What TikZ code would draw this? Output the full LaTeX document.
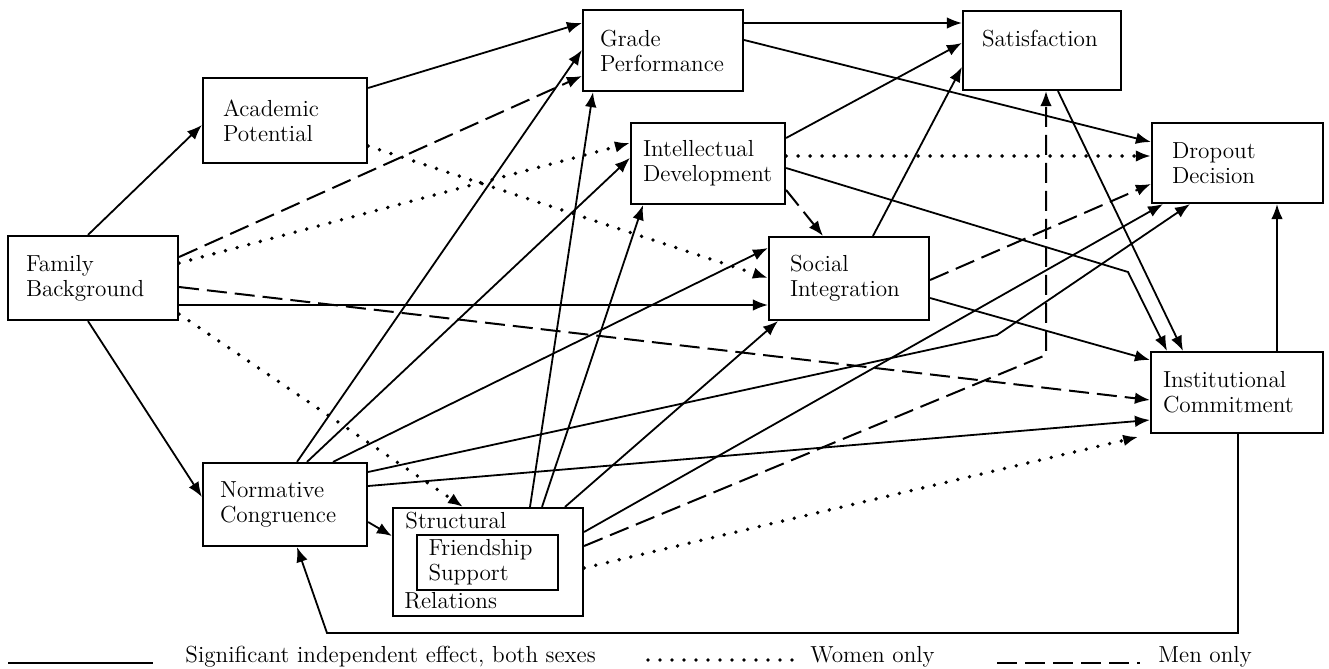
\documentclass[tikz,border=0pt]{standalone}
\usetikzlibrary{arrows.meta}

\begin{document}
\begin{tikzpicture}[x=0.5pt,y=-0.5pt,>={Latex[length=7.5pt,width=5.8pt]}]
        \tikzstyle{box}=[rectangle,draw=black,line width=1.1pt,align=left,inner sep=0pt,font=\fontsize{11.6}{12.5}\selectfont]
        \tikzstyle{caption}=[inner sep=0pt,font=\fontsize{11.6}{12.5}\selectfont]
        \tikzstyle{both}=[->,line width=0.9pt]
        \tikzstyle{women}=[->,line width=1.9pt,line cap=round,dash pattern=on 0pt off 6pt]
        \tikzstyle{men}=[->,line width=1pt,dash pattern=on 10pt off 4pt]

        \useasboundingbox (0,0) rectangle (1329,669);

        % boxes
        \node [box,minimum width=85pt,minimum height=42pt,text width=67pt] (fam) at (93,278) {Family\\Background};
        \node [box,minimum width=82pt,minimum height=42.5pt,text width=62pt] (acad) at (285,120.5) {Academic\\Potential};
        \node [box,minimum width=80pt,minimum height=40.5pt,text width=63pt] (grade) at (663,50.5) {Grade\\Performance};
        \node [box,minimum width=77pt,minimum height=40.5pt,text width=65pt] (intel) at (708,163.5) {Intellectual\\Development};
        \node [box,minimum width=80pt,minimum height=41.5pt,text width=59pt] (social) at (849,278.5) {Social\\Integration};
        \node [box,minimum width=79pt,minimum height=39.5pt,text width=60pt] (satis) at (1042,50.5) {Satisfaction\\\mbox{}};
        \node [box,minimum width=85.5pt,minimum height=40pt,text width=65.5pt] (drop) at (1237.5,163) {Dropout\\Decision};
        \node [box,minimum width=86pt,minimum height=40.5pt,text width=74pt] (inst) at (1237,392.5) {Institutional\\Commitment};
        \node [box,minimum width=82pt,minimum height=41.5pt,text width=65pt] (norm) at (285,504.5) {Normative\\Congruence};
        \node [box,minimum width=95pt,minimum height=54pt] (struct) at (488,562) {};
        \node [box,minimum width=70.5pt,minimum height=27.5pt,text width=59pt] (friend) at (487.5,562.5) {Friendship\\Support};
        \node [caption,anchor=base west] (structlbl) at (405,528) {Structural};
        \node [caption,anchor=base west] (rellbl) at (404,608) {Relations};

        % bends
        \coordinate (bendnd) at (997,335);
        \coordinate (bendin) at (1128,272);
        \coordinate (bendss) at (1046,355);
        \coordinate (loopr) at (327,633);

        % family background
        \draw[both] (fam.north -| 88,0) -- (acad.west |- 0,125);
        \draw[both] (fam.south -| 88,0) -- (norm.west |- 0,497);
        \draw[men] (fam.east |- 0,257) -- (grade.west |- 0,76);
        \draw[women] (fam.east |- 0,263) -- (intel.west |- 0,143);
        \draw[men] (fam.east |- 0,287) -- (inst.west |- 0,400);
        \draw[both] (fam.east |- 0,305) -- (social.west |- 0,305);
        \draw[women] (fam.east |- 0,314) -- (struct.north -| 463,0);

        % academic potential
        \draw[both] (acad.east |- 0,88) -- (grade.west |- 0,23);
        \draw[women] (acad.east |- 0,146) -- (social.west |- 0,278);

        % normative congruence
        \draw[both] (norm.north -| 297,0) -- (grade.west |- 0,50);
        \draw[both] (norm.north -| 307,0) -- (intel.west |- 0,158);
        \draw[both] (norm.north -| 333,0) -- (social.west |- 0,248);
        \draw[both] (norm.east |- 0,472) -- (bendnd) -- (drop.south -| 1190,0);
        \draw[both] (norm.east |- 0,486) -- (inst.west |- 0,420);
        \draw[both] (norm.east |- 0,522) -- (struct.west |- 0,536);

        % structural relations
        \draw[both] (struct.north -| 530,0) -- (grade.south -| 593,0);
        \draw[both] (struct.north -| 542,0) -- (intel.south -| 643,0);
        \draw[both] (struct.north -| 565,0) -- (social.south -| 778,0);
        \draw[both] (struct.east |- 0,532) -- (drop.south -| 1163,0);
        \draw[men] (struct.east |- 0,546) -- (bendss) -- (satis.south -| 1046,0);
        \draw[women,shorten >=6pt] (struct.east |- 0,568) -- (inst.south west);

        % grade, intellectual, social
        \draw[both] (grade.east |- 0,23) -- (satis.west |- 0,23);
        \draw[both] (grade.east |- 0,40) -- (drop.west |- 0,142);
        \draw[both] (intel.east |- 0,138) -- (satis.west |- 0,43);
        \draw[women] (intel.east |- 0,156) -- (drop.west |- 0,156);
        \draw[both] (intel.east |- 0,168) -- (bendin) -- (inst.north -| 1167,0);
        \draw[men] (intel.east |- 0,190) -- (social.north -| 823,0);
        \draw[both] (social.north -| 873,0) -- (satis.west |- 0,67);
        \draw[men] (social.east |- 0,280) -- (drop.west |- 0,184);
        \draw[both] (social.east |- 0,298) -- (inst.west |- 0,360);

        % satisfaction, commitment
        \draw[both] (satis.south -| 1058,0) -- (inst.north -| 1183,0);
        \draw[both] (inst.north -| 1277,0) -- (drop.south -| 1277,0);
        \draw[both] (inst.south -| 1238,0) |- (loopr) -- (norm.south -| 297,0);

        % legend
        \draw[line width=0.9pt] (8,663) -- (153,663);
        \node [caption,anchor=base west] (lgboth) at (185,662) {Significant independent effect, both sexes};
        \draw[women,-] (648,660) -- (792,660);
        \node [caption,anchor=base west] (lgwomen) at (810,662) {Women only};
        \draw[men,-] (997,663) -- (1140,663);
        \node [caption,anchor=base west] (lgmen) at (1158,662) {Men only};
\end{tikzpicture}
\end{document}
